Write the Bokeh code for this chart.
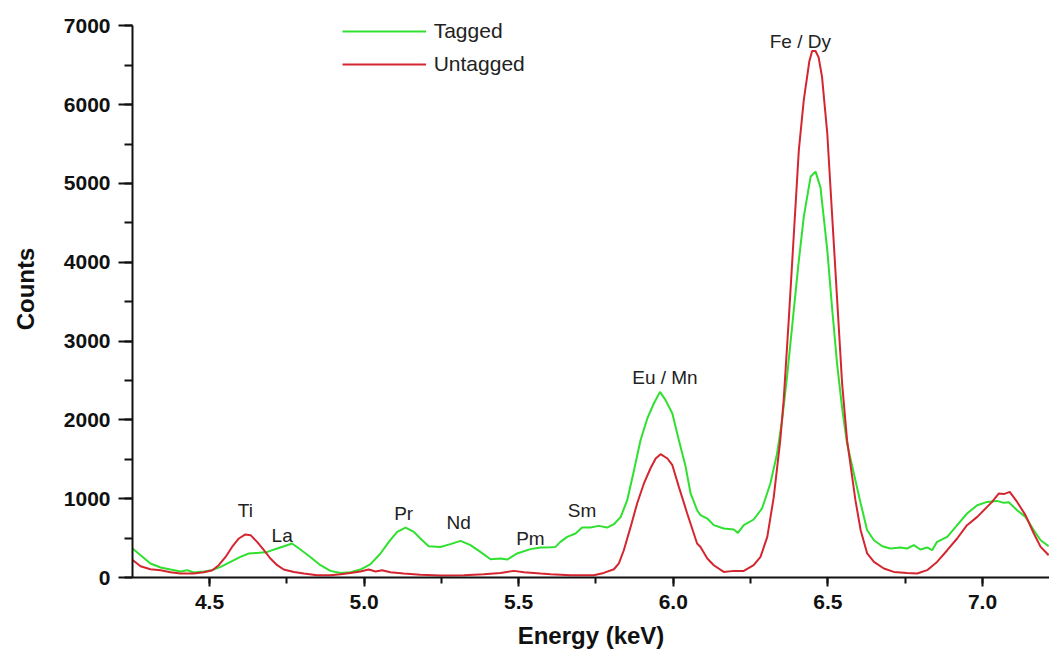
from bokeh.plotting import figure
from bokeh.models import (Range1d, SingleIntervalTicker, NumeralTickFormatter,
                          Legend, LegendItem, ColumnDataSource)
from bokeh.core.properties import value
from bokeh.embed import file_html
from bokeh.resources import INLINE

# ---------------- data ----------------
energy_tagged = [4.245, 4.277, 4.309, 4.342, 4.374, 4.406, 4.428, 4.449, 4.482, 4.509,
                 4.536, 4.568, 4.600, 4.627, 4.654, 4.687, 4.719, 4.751, 4.767, 4.794,
                 4.826, 4.859, 4.891, 4.924, 4.956, 4.988, 5.021, 5.053, 5.080, 5.107,
                 5.134, 5.161, 5.182, 5.209, 5.247, 5.279, 5.312, 5.344, 5.376, 5.409,
                 5.441, 5.463, 5.495, 5.538, 5.571, 5.603, 5.619, 5.635, 5.657, 5.684,
                 5.705, 5.732, 5.759, 5.786, 5.808, 5.830, 5.851, 5.873, 5.894, 5.916,
                 5.937, 5.957, 5.975, 5.997, 6.018, 6.040, 6.056, 6.077, 6.088, 6.110,
                 6.131, 6.163, 6.196, 6.209, 6.228, 6.260, 6.287, 6.314, 6.335, 6.352,
                 6.368, 6.386, 6.404, 6.422, 6.444, 6.460, 6.476, 6.498, 6.514, 6.530,
                 6.546, 6.562, 6.584, 6.606, 6.627, 6.649, 6.676, 6.702, 6.735, 6.756,
                 6.778, 6.799, 6.821, 6.837, 6.853, 6.886, 6.918, 6.950, 6.983, 7.015,
                 7.047, 7.069, 7.085, 7.112, 7.139, 7.166, 7.188, 7.214]
counts_tagged = [388, 283, 178, 127, 101, 76, 93, 63, 76, 93,
                 135, 198, 261, 305, 312, 325, 368, 410, 431, 355,
                 261, 156, 84, 58, 67, 101, 169, 305, 452, 579,
                 634, 579, 495, 397, 388, 423, 465, 410, 325, 232,
                 240, 228, 305, 360, 381, 385, 388, 452, 515, 558,
                 634, 634, 655, 634, 676, 769, 981, 1362, 1742, 2018,
                 2208, 2355, 2250, 2081, 1742, 1404, 1066, 854, 791, 748,
                 664, 622, 609, 566, 664, 736, 876, 1193, 1560, 2000,
                 2550, 3250, 3950, 4576, 5084, 5150, 4950, 4154, 3400, 2700,
                 2150, 1700, 1320, 939, 600, 473, 397, 368, 381, 368,
                 410, 355, 381, 346, 452, 515, 664, 812, 917, 959,
                 972, 947, 955, 854, 769, 600, 473, 397]

energy_untagged = [4.245, 4.277, 4.309, 4.342, 4.374, 4.406, 4.449, 4.482, 4.509, 4.530,
                   4.552, 4.573, 4.595, 4.616, 4.633, 4.654, 4.676, 4.697, 4.719, 4.740,
                   4.773, 4.805, 4.848, 4.891, 4.924, 4.956, 4.988, 5.015, 5.037, 5.058,
                   5.085, 5.128, 5.182, 5.247, 5.323, 5.387, 5.441, 5.484, 5.517, 5.571,
                   5.603, 5.668, 5.743, 5.775, 5.808, 5.824, 5.840, 5.862, 5.883, 5.905,
                   5.926, 5.943, 5.959, 5.981, 5.997, 6.018, 6.045, 6.077, 6.088, 6.110,
                   6.131, 6.163, 6.196, 6.228, 6.260, 6.282, 6.304, 6.325, 6.346, 6.357,
                   6.374, 6.390, 6.406, 6.422, 6.440, 6.449, 6.460, 6.470, 6.481, 6.498,
                   6.514, 6.530, 6.546, 6.562, 6.589, 6.606, 6.627, 6.649, 6.681, 6.713,
                   6.756, 6.789, 6.821, 6.853, 6.886, 6.918, 6.950, 6.983, 7.015, 7.031,
                   7.053, 7.069, 7.088, 7.112, 7.139, 7.166, 7.188, 7.214]
counts_untagged = [241, 143, 105, 93, 67, 51, 51, 67, 93, 156,
                   261, 388, 495, 546, 537, 452, 346, 241, 156, 101,
                   71, 51, 29, 30, 40, 58, 76, 101, 76, 93,
                   67, 51, 34, 25, 29, 42, 58, 84, 67, 51,
                   42, 29, 29, 58, 105, 178, 346, 642, 939, 1193,
                   1383, 1510, 1565, 1510, 1425, 1150, 812, 431, 388, 241,
                   156, 71, 84, 84, 156, 261, 515, 1023, 1742, 2250,
                   3307, 4365, 5422, 6056, 6550, 6680, 6680, 6600, 6353, 5634,
                   4576, 3519, 2461, 1742, 981, 600, 305, 198, 114, 71,
                   58, 51, 93, 198, 346, 495, 664, 769, 896, 959,
                   1066, 1058, 1087, 959, 791, 558, 388, 283]

peak_labels = ["Ti", "La", "Pr", "Nd", "Pm", "Sm", "Eu / Mn", "Fe / Dy"]
peak_label_energy = [4.616, 4.735, 5.128, 5.306, 5.538, 5.705, 5.973, 6.411]
peak_label_counts = [845, 537, 812, 693, 495, 854, 2533, 6797]

series_names = ["Tagged", "Untagged"]
y_axis_max = 7000
y_ticks_major = 1000
x_ticks_major = 0.5

# ---------------- figure ----------------
FONT = "Liberation Sans"
GREEN = "#30e030"
RED = "#d42630"

# frame spans the full height above the x axis; the y axis itself stops at 7000
p = figure(width=1049, height=655, output_backend="svg", toolbar_location=None,
           x_range=Range1d(4.251, 7.2167), y_range=Range1d(0, 7321),
           min_border_left=132, min_border_right=0, min_border_top=0,
           min_border_bottom=78)
p.outline_line_color = None
p.grid.visible = False
p.background_fill_color = "white"
p.border_fill_color = "white"

g = p.line(energy_tagged, counts_tagged, line_color=GREEN, line_width=2)
r = p.line(energy_untagged, counts_untagged, line_color=RED, line_width=2)

src = ColumnDataSource(dict(x=peak_label_energy, y=peak_label_counts, t=peak_labels))
p.text(x="x", y="y", text="t", source=src, text_align="center", text_baseline="middle",
       text_font=value(FONT), text_font_size="19px", text_color="#222222")

# axes
xa = p.xaxis[0]
xa.ticker = SingleIntervalTicker(interval=x_ticks_major, num_minor_ticks=2)
xa.formatter = NumeralTickFormatter(format="0.0")
xa.axis_label = "Energy (keV)"
xa.major_tick_out = 9
xa.major_tick_in = 0
xa.minor_tick_out = 6
xa.minor_tick_in = 0
xa.major_label_standoff = 8
xa.axis_label_standoff = 10

ya = p.yaxis[0]
ya.ticker = SingleIntervalTicker(interval=y_ticks_major, num_minor_ticks=2)
ya.formatter = NumeralTickFormatter(format="0")
ya.bounds = (0, y_axis_max)
ya.axis_label = "Counts"
ya.major_tick_out = 14
ya.major_tick_in = 0
ya.minor_tick_out = 8
ya.minor_tick_in = 0
ya.major_label_standoff = 8
ya.axis_label_standoff = 22

for ax in (xa, ya):
    ax.axis_line_width = 2
    ax.axis_line_color = "#111111"
    ax.major_tick_line_width = 2
    ax.major_tick_line_color = "#111111"
    ax.minor_tick_line_width = 2
    ax.minor_tick_line_color = "#111111"
    ax.major_label_text_font = FONT
    ax.major_label_text_font_style = "bold"
    ax.major_label_text_font_size = "21px"
    ax.major_label_text_color = "#111111"
    ax.axis_label_text_font = FONT
    ax.axis_label_text_font_style = "bold"
    ax.axis_label_text_font_size = "24px"
    ax.axis_label_text_color = "#111111"

legend = Legend(items=[LegendItem(label=series_names[0], renderers=[g]),
                       LegendItem(label=series_names[1], renderers=[r])],
                location=(209.7, 500.6), orientation="vertical",
                glyph_width=84, glyph_height=24, label_height=24,
                label_standoff=8, spacing=9, padding=0, margin=0,
                border_line_color=None, background_fill_alpha=0,
                label_text_font=FONT, label_text_font_size="21px",
                label_text_color="#222222")
p.add_layout(legend, "center")

open("out.html", "w").write(file_html(p, INLINE))
